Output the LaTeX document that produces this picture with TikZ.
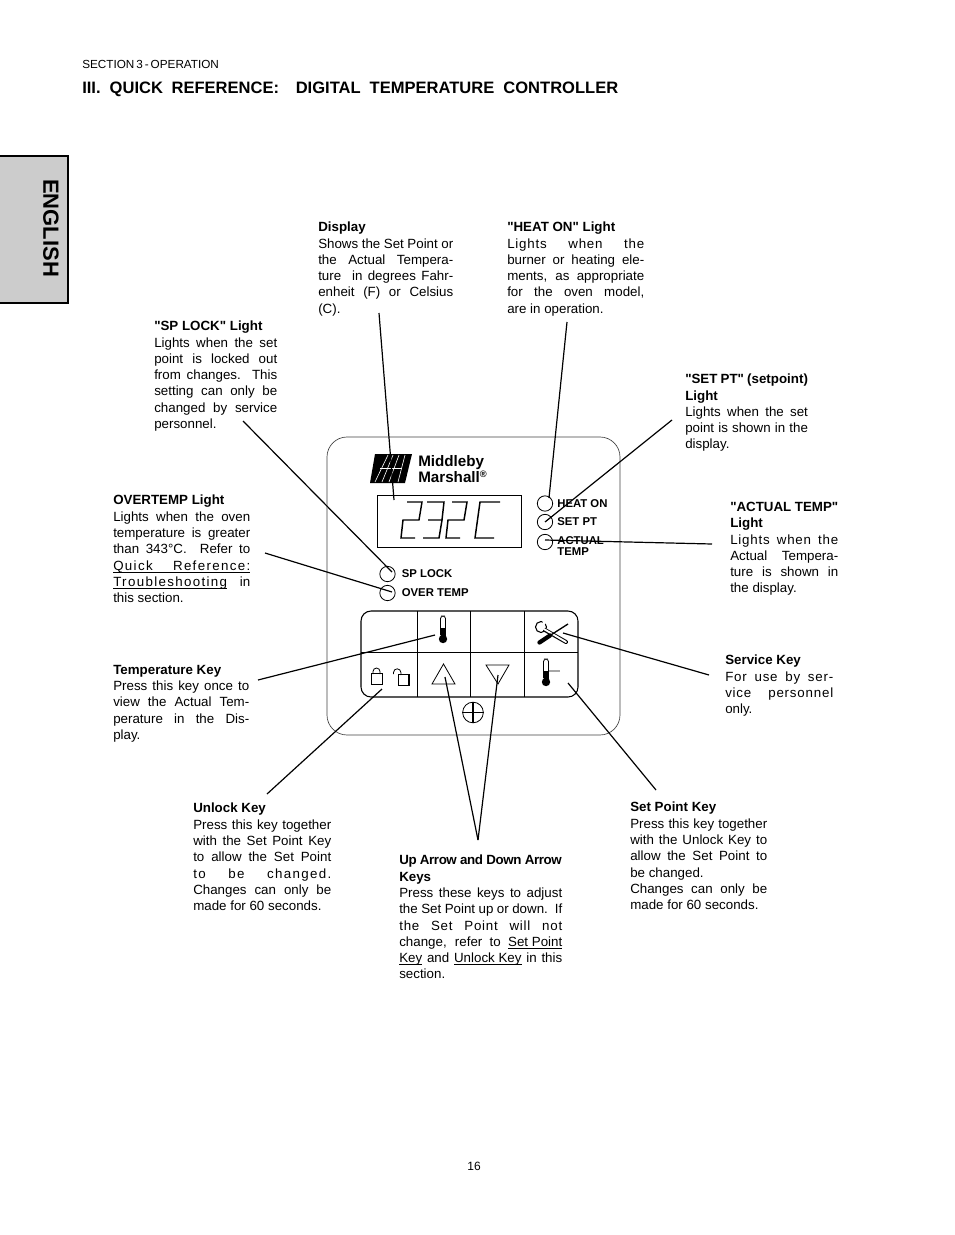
\documentclass[tikz,border=0pt]{standalone}
\usepackage{fontspec}
\setmainfont{Liberation Sans}
\newfontfamily\plainfont{Liberation Sans}
\usetikzlibrary{arrows.meta, positioning, calc}
\newcommand{\nl}{\linebreak}
\newcommand{\qt}{{\plainfont\bfseries"}}
\newcommand{\ls}{\addfontfeature{LetterSpace=6}}
\newcommand{\lss}{\addfontfeature{LetterSpace=10}}
\newcommand{\ul}[1]{{\setbox0=\hbox{#1}\rlap{\rule[-1.7pt]{\wd0}{0.5pt}}\box0}}

\begin{document}
\begin{tikzpicture}[
    x=0.75pt, y=-0.75pt,
    callout/.style={anchor=north west, inner sep=0pt, align=justify, font=\fontsize{10}{12.2}\selectfont},
    panellabel/.style={anchor=west, inner sep=0pt, align=left, font=\fontsize{8.5}{9}\selectfont\bfseries},
    led/.style={circle, draw, line width=0.6pt, minimum size=11.5pt, inner sep=0pt},
    keyline/.style={line width=0.7pt},
    leader/.style={line width=0.9pt},
    segment/.style={line width=1.1pt, line join=miter},
    symline/.style={line width=0.6pt}
]
\useasboundingbox (0,0) rectangle (954,1235);

% Page header
\node[anchor=west, inner sep=0pt, font=\fontsize{8.8}{10}\selectfont] (section) at (82,64.5) {SECTION\,3\,-\,OPERATION};
\node[anchor=west, inner sep=0pt, font=\fontsize{12.4}{14}\selectfont\bfseries] (title) at (82,89.5) {III.\hspace{6.8pt}QUICK\hspace{6.5pt}REFERENCE:\hspace{12.5pt}DIGITAL\hspace{6.8pt}TEMPERATURE\hspace{6.8pt}CONTROLLER};
\node[inner sep=0pt, font=\fontsize{9}{10}\selectfont] (pagenum) at (474,1166) {16};

% Language tab
\fill[black!20] (0,156) rectangle (68,303);
\draw[line width=1.2pt] (0,156) -- (68,156) -- (68,303) -- (0,303);
\node[rotate=-90, inner sep=0pt, font=\fontsize{16.5}{18}\selectfont\bfseries] (english) at (51,228) {ENGLISH};

% Controller panel
\draw[line width=0.5pt, black!75, rounded corners=15pt] (327,437) rectangle (620,735);
\node[inner sep=0pt, anchor=west, align=left, font=\fontsize{11.4}{12}\selectfont\bfseries] (brand) at (418,469) {Middleby\\Marshall\textsuperscript{\scriptsize ®}};

% Logo
\fill (375,454) -- (412,454) -- (405,483) -- (370,483) -- cycle;
\foreach \xa/\xb in {388/375,393/382,399/389,405/398}
    \draw[white, line width=0.45pt] (\xa,455) -- (\xb,482);
\draw[white, line width=0.45pt] (380,468.5) -- (402,468.5);

% Display
\node[draw, line width=0.7pt, minimum width=108.2pt, minimum height=39pt, inner sep=0pt] (display) at (449.5,521) {};
\foreach \xd in {0,45}
    \draw[segment] (407+\xd,502) -- (422+\xd,502) -- (419+\xd,520) -- (403+\xd,520) -- (401+\xd,538) -- (415+\xd,538);
\draw[segment] (427,502) -- (444,502) -- (442,520) -- (428,520);
\draw[segment] (442,520) -- (439,538) -- (423,538);
\draw[segment] (500,502) -- (480,502) -- (475,538) -- (494,538);

% Lights
\node[led] (heatled) at (545,503.5) {};
\node[led] (setptled) at (545,522) {};
\node[led] (actualled) at (545,542) {};
\node[led] (splockled) at (387.5,574) {};
\node[led] (overled) at (387.5,593) {};
\node[panellabel, right=3pt of heatled] (heatlabel) {HEAT ON};
\node[panellabel, right=3pt of setptled] (setptlabel) {SET PT};
\node[panellabel, right=3pt of actualled, yshift=-3pt] (actuallabel) {ACTUAL\\[-1pt]TEMP};
\node[panellabel, right=4.5pt of splockled] (splocklabel) {SP LOCK};
\node[panellabel, right=4.5pt of overled] (overlabel) {OVER TEMP};

% Keypad
\draw[keyline, line width=0.8pt, rounded corners=7.5pt] (361,611) rectangle (578,697);
\draw[keyline] (361,652) -- (578,652);
\foreach \xk in {417,470,524}
    \draw[keyline] (\xk,611) -- (\xk,697);

% Thermometers
\foreach \xt/\yt in {443/617,546/660} {
    \draw[symline, rounded corners=2pt] (\xt-2.5,\yt+18) -- (\xt-2.5,\yt-1) -- (\xt+2.5,\yt-1) -- (\xt+2.5,\yt+18);
    \fill (\xt-2.5,\yt+11) rectangle (\xt+2.5,\yt+20);
    \fill (\xt,\yt+22) circle (4.2);
}
\draw[black!35, line width=0.9pt] (560,671) -- (549,671);

% Locks
\node[draw, line width=0.7pt, minimum size=8.2pt, inner sep=0pt] (lockclosed) at (376.5,679) {};
\draw[symline] (373,674) -- (373,671.5) arc[start angle=180, end angle=360, radius=3.5] -- (380,674);
\node[draw, line width=0.7pt, minimum size=8.2pt, inner sep=0pt] (lockopen) at (403.5,680) {};
\draw[line width=1.1pt] (398,685.5) -- (409,685.5) -- (409,674.5);
\draw[symline] (393.5,674) -- (393.5,672.5) arc[start angle=180, end angle=360, radius=3.7] -- (401,675);

% Arrow keys
\draw[symline] (443.5,664) -- (455,684) -- (432,684) -- cycle;
\draw[symline] (486,665) -- (509,665) -- (498,684) -- cycle;

% Service tools
\draw[line width=0.8pt, fill=white] (541,627) circle (5.5);
\fill[white] (542,627) -- (549,620) -- (543,619) -- cycle;
\draw[line width=3pt, line cap=round] (545,630) -- (566,642);
\draw[white, line width=1.4pt, line cap=round] (543,628.5) -- (566,642);
\draw[line width=3.2pt, line cap=round] (539.5,642.5) -- (550,635.5);
\draw[line width=1pt] (550,635.5) -- (568,624);

% Adjust mark
\node[circle, draw, line width=0.6pt, minimum size=15.5pt, inner sep=0pt] (adjust) at (473,712.5) {};
\draw[line width=0.8pt] (adjust.west) -- (adjust.east);
\draw[line width=0.8pt] (adjust.north) -- (adjust.south);

% Callouts
\node[callout, text width=101.25pt] (displaytext) at (318,222) {\textbf{Display}\\
Shows the Set Point or\nl the Actual Tempera-\nl ture\ \ in degrees Fahr-\nl enheit (F) or Celsius\nl (C).};
\node[callout, text width=102.75pt] (heattext) at (507,222) {\textbf{\qt HEAT ON\qt{} Light}\\
{\ls Lights when the}\nl burner or heating ele-\nl ments, as appropriate\nl for the oven model,\nl are in operation.};
\node[callout, text width=92.25pt] (splocktext) at (154,321) {\textbf{\qt SP LOCK\qt{} Light}\\
Lights when the set\nl point is locked out\nl from changes. This\nl setting can only be\nl changed by service\nl personnel.};
\node[callout, text width=92pt] (setpttext) at (685,374) {\textbf{\qt SET PT\qt{} (setpoint)}\\
\textbf{Light}\\
Lights when the set\nl point is shown in the\nl display.};
\node[callout, text width=102.75pt] (overtext) at (113,495) {\textbf{OVERTEMP Light}\\
Lights when the oven\nl temperature is greater\nl than 343°C.\ \ Refer to\nl \ul{\makebox[102.75pt][s]{\lss Quick Reference:}}\nl \ul{\lss Troubleshooting} in\nl this section.};
\node[callout, text width=81pt] (actualtext) at (730,502) {\textbf{\qt ACTUAL TEMP\qt}\\
\textbf{Light}\\
{\ls Lights when the}\nl Actual Tempera-\nl ture is shown in\nl the display.};
\node[callout, text width=102pt] (tempkeytext) at (113,665) {\textbf{Temperature Key}\\
Press this key once to\nl view the Actual Tem-\nl perature in the Dis-\nl play.};
\node[callout, text width=81pt] (servicetext) at (725,655) {\textbf{Service Key}\\
{\ls For use by ser-}\nl {\ls vice personnel}\nl only.};
\node[callout, text width=103.5pt] (unlocktext) at (193,803) {\textbf{Unlock Key}\\
Press this key together\nl with the Set Point Key\nl to allow the Set Point\nl {\lss to be changed.}\nl Changes can only be\nl made for 60 seconds.};
\node[callout, text width=122.25pt] (arrowtext) at (399,855) {\mbox{\textbf{\addfontfeature{LetterSpace=-3}Up Arrow and Down Arrow}}\\
\textbf{Keys}\\
Press these keys to adjust\nl the Set Point up or down.\ \ If\nl {\ls the Set Point will not}\nl change, refer to \ul{Set Point}\nl \ul{Key} and \ul{Unlock Key} in this\nl section.};
\node[callout, text width=102.75pt] (setkeytext) at (630,802) {\textbf{Set Point Key}\\
Press this key together\nl with the Unlock Key to\nl allow the Set Point to\nl be changed.\\
Changes can only be\nl made for 60 seconds.};

% Leader ends
\coordinate (displayfrom) at (379,313);
\coordinate (displayto) at (394,500);
\coordinate (heatfrom) at (567,322);
\coordinate (heatto) at (549,498);
\coordinate (setptfrom) at (672,420);
\coordinate (setptto) at (545,522);
\coordinate (actualfrom) at (712,544);
\coordinate (actualto) at (545,540);
\coordinate (splockfrom) at (243,421);
\coordinate (splockto) at (392,572);
\coordinate (overfrom) at (265,553);
\coordinate (overto) at (392,592);
\coordinate (tempfrom) at (258,680);
\coordinate (tempto) at (435,635);
\coordinate (servicefrom) at (709,675);
\coordinate (serviceto) at (563,633);
\coordinate (unlockfrom) at (267,794);
\coordinate (unlockto) at (382,689);
\coordinate (setkeyfrom) at (656,790);
\coordinate (setkeyto) at (568,683);
\coordinate (arrowfrom) at (478,840);
\coordinate (upto) at (445,677);
\coordinate (downto) at (498,675);

% Leaders
\draw[leader] (displayfrom) -- (displayto);
\draw[leader] (heatfrom) -- (heatto);
\draw[leader] (setptfrom) -- (setptto);
\draw[leader] (actualfrom) -- (actualto);
\draw[leader] (splockfrom) -- (splockto);
\draw[leader] (overfrom) -- (overto);
\draw[leader] (tempfrom) -- (tempto);
\draw[leader] (servicefrom) -- (serviceto);
\draw[leader] (unlockfrom) -- (unlockto);
\draw[leader] (setkeyfrom) -- (setkeyto);
\draw[leader] (arrowfrom) -- (upto);
\draw[leader] (arrowfrom) -- (downto);

\end{tikzpicture}
\end{document}
